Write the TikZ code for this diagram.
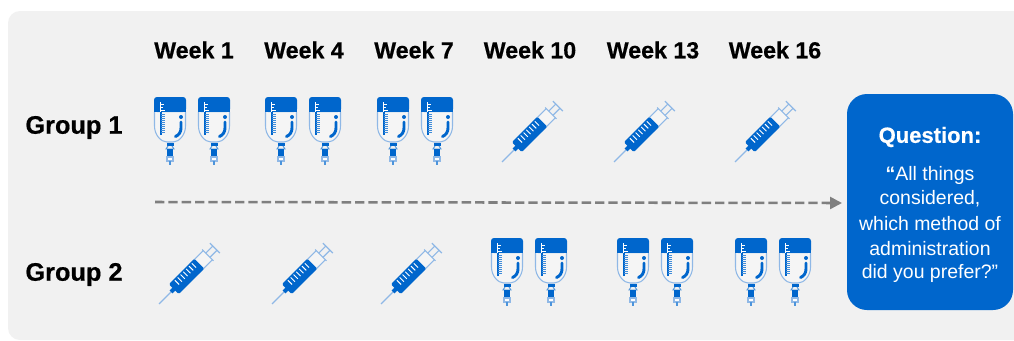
\documentclass[tikz,border=0pt]{standalone}
\usepackage{fontspec}
\setmainfont{Liberation Sans}
\newfontfamily\heavy{Liberation Sans Bold}[FakeBold=0.5]
\usetikzlibrary{arrows.meta}
\definecolor{hblue}{HTML}{0066CC}
\definecolor{lblue}{HTML}{8FB8E6}
\definecolor{panel}{HTML}{F1F1F1}
\definecolor{dgray}{HTML}{7F7F7F}
\tikzset{
  x=0.75pt,y=-0.75pt,
  weeklabel/.style={font=\heavy\fontsize{17.4}{20}\selectfont,text=black,inner sep=0pt,anchor=center},
  grouplabel/.style={font=\heavy\fontsize{19}{22}\selectfont,text=black,inner sep=0pt,anchor=center},
  qhead/.style={font=\heavy\fontsize{16.5}{20}\selectfont,text=white,inner sep=0pt,anchor=center},
  qline/.style={font=\fontsize{14.6}{18}\selectfont,text=white,inner sep=0pt,anchor=center},
  bag/.pic={
    \fill[hblue,rounded corners=2.2pt] (0,15) -- (0,0) -- (32,0) -- (32,15) -- cycle;
    \fill[hblue] (0,10) rectangle (32,15);
    \fill[white,opacity=.35] (0.6,15) -- (0.6,29) .. controls (0.6,38) and (7,44.5) .. (13,44.5) -- (19,44.5) .. controls (25,44.5) and (31.4,38) .. (31.4,29) -- (31.4,15) -- cycle;
    \draw[lblue,line width=0.8pt] (0.5,15) -- (0.5,29) .. controls (0.5,38) and (7,45) .. (13,45) -- (19,45) .. controls (25,45) and (31.5,38) .. (31.5,29) -- (31.5,15);
    \draw[white,line width=0.7pt] (6,5) -- (6,15) (6,7) -- (10,7) (6,10) -- (9,10) (6,13) -- (11,13);
    \draw[hblue,line width=1.5pt] (6.5,15) -- (6.5,38);
    \foreach \ty in {17,19,...,35}{\draw[hblue!75,line width=0.6pt] (7,\ty) -- (11,\ty);}
    \fill[hblue] (27,20) circle[radius=2];
    \draw[hblue,line width=2.2pt,line cap=round] (27,25) -- (27,31) .. controls (27,35) and (25,38) .. (21.5,39.5);
    \fill[hblue] (12.5,45.5) rectangle (19.5,49);
    \draw[hblue!70,line width=0.7pt] (14,49) -- (12,52) -- (20,52) -- (18,49);
    \fill[hblue] (13,52) rectangle (19,60);
    \draw[lblue,line width=0.8pt,fill=white] (13,60) rectangle (19,64);
    \fill[hblue!70] (15,64) rectangle (17,68);
  },
  syringe/.pic={
    \begin{scope}[rotate=45]
      \draw[lblue,line width=1pt] (-41,0) -- (-22,0);
      \fill[hblue] (-24,-2) rectangle (-19,2);
      \fill[white,opacity=.35] (8,-6.5) rectangle (28,6.5);
      \draw[lblue,line width=0.8pt] (8,-6.5) -- (28,-6.5) (8,6.5) -- (28,6.5);
      \draw[lblue,line width=0.8pt] (28,-8) -- (28,8);
      \fill[hblue,rounded corners=1pt] (-20,-7) -- (16,-7) -- (16,7) -- (-20,7) -- cycle;
      \foreach \tx in {-13,-9,...,11}{\draw[white,line width=0.7pt] (\tx,-5.5) -- (\tx,0.5);}
      \draw[lblue,line width=0.8pt] (28,-3) -- (38,-3) (28,3) -- (38,3);
      \draw[lblue,line width=1pt] (38,-7) -- (38,7);
    \end{scope}
  }
}
\begin{document}
\begin{tikzpicture}
\useasboundingbox (0,0) rectangle (1014,340);
\fill[white] (0,0) rectangle (1014,340);
\fill[panel,rounded corners=9pt] (1040,11) -- (8,11) -- (8,340) -- (1040,340) -- cycle;

\node[weeklabel] (w1) at (194,50) {Week 1};
\node[weeklabel] (w4) at (304,50) {Week 4};
\node[weeklabel] (w7) at (414,50) {Week 7};
\node[weeklabel] (w10) at (530,50) {Week 10};
\node[weeklabel] (w13) at (653,50) {Week 13};
\node[weeklabel] (w16) at (775,50) {Week 16};
\node[grouplabel] (g1) at (74,127.5) {Group 1};
\node[grouplabel] (g2) at (74,274.5) {Group 2};

\foreach \bx in {154,198,265,309,377,421}{\pic at (\bx,97) {bag};}
\foreach \bx in {491,535,617,661,735,779}{\pic at (\bx,238) {bag};}
\foreach \sx in {531,643,764}{\pic at (\sx,133) {syringe};}
\foreach \sx in {188,301,410}{\pic at (\sx,275) {syringe};}

\fill[hblue,rounded corners=15pt] (847,94) rectangle (1013,310);
\coordinate (astart) at (155,202);
\coordinate (aend) at (842,203);
\draw[dgray,line width=1.9pt,dashed,dash pattern=on 7pt off 3pt,-{Triangle[length=9pt,width=9pt]}] (astart) -- (aend);

\node[qhead] (qh) at (930,137) {Question:};
\node[qline] (q1) at (930,175) {{\bfseries “}All things};
\node[qline] (q2) at (930,199) {considered,};
\node[qline] (q3) at (930,224) {which method of};
\node[qline] (q4) at (930,249) {administration};
\node[qline] (q5) at (930,273) {did you prefer?”};
\end{tikzpicture}
\end{document}
